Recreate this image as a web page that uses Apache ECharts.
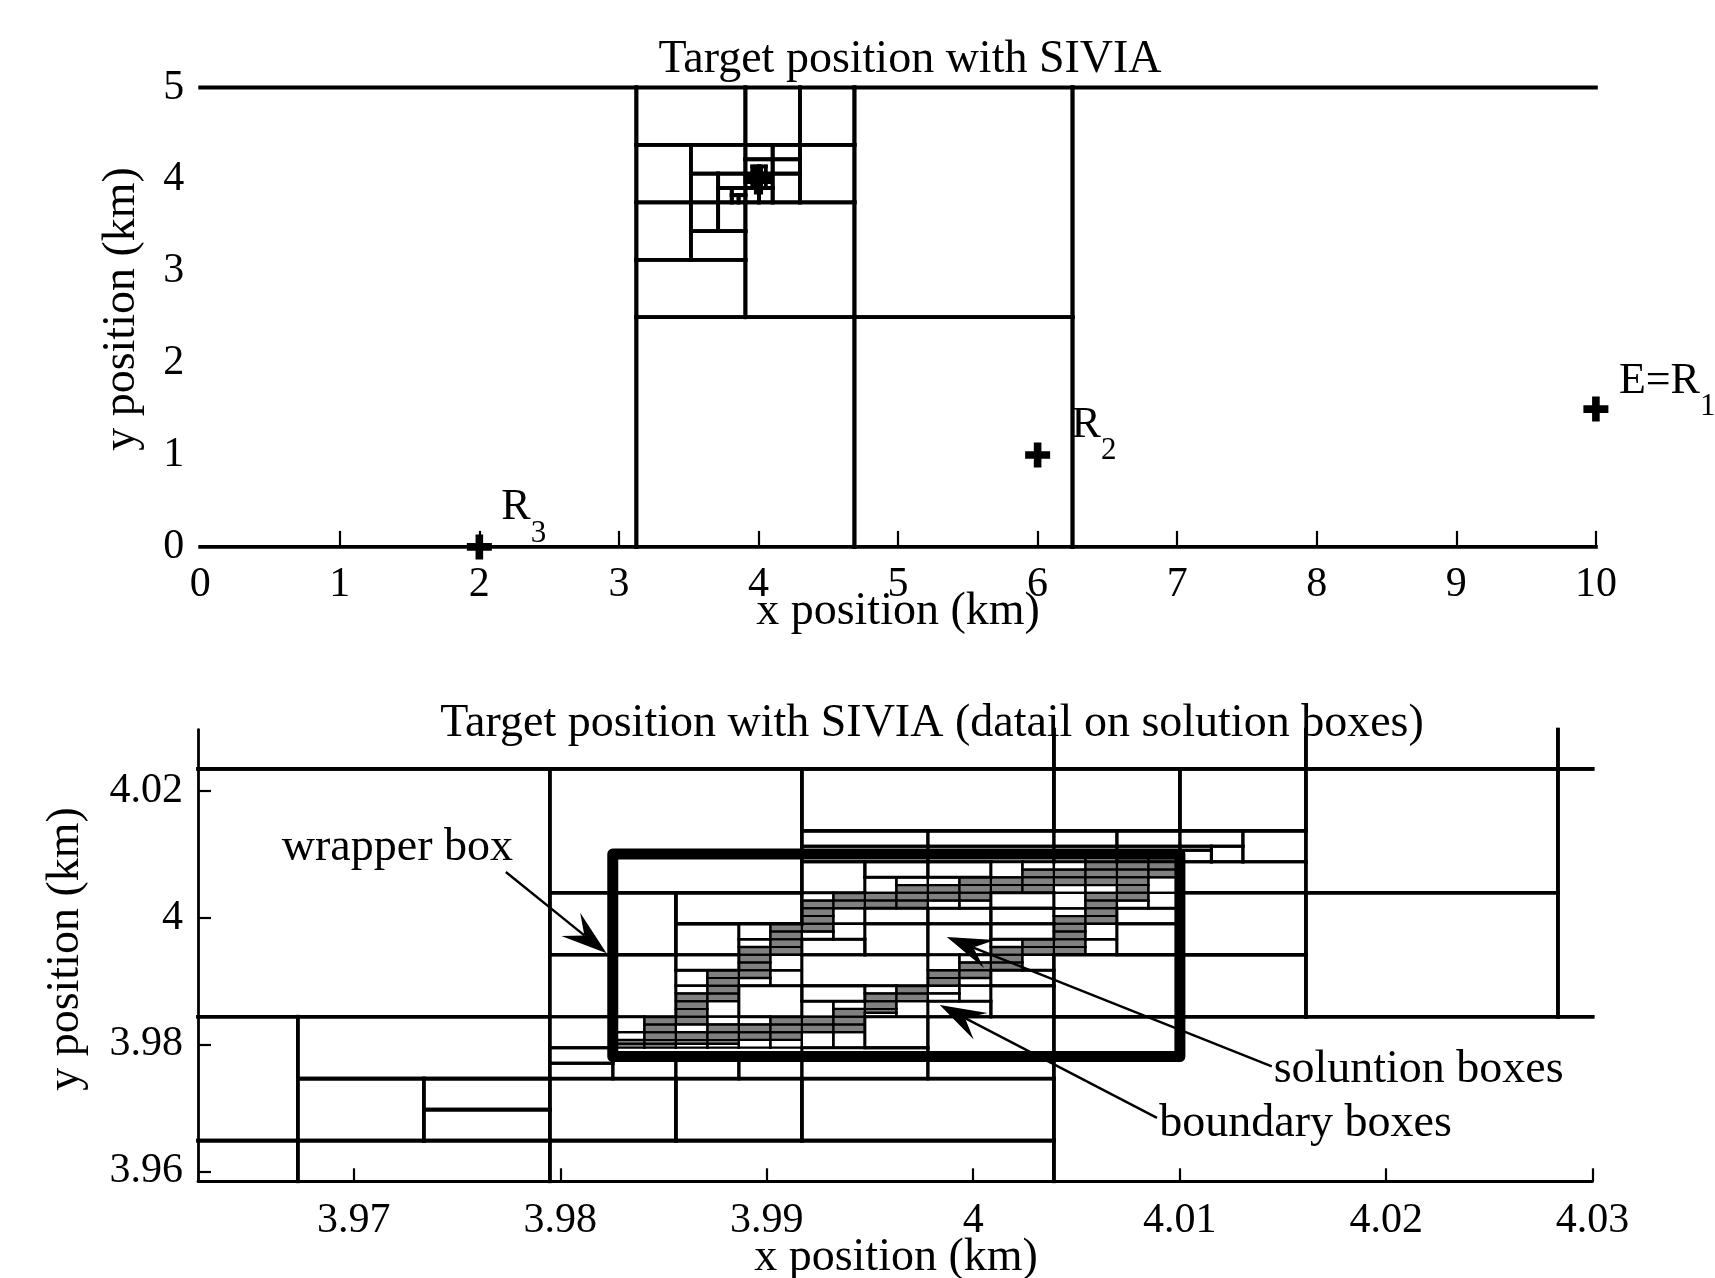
<!DOCTYPE html>
<html>
<head>
<meta charset="utf-8">
<script src="https://cdn.jsdelivr.net/npm/echarts@6/dist/echarts.min.js"></script>
<style>
  html, body { margin: 0; padding: 0; background: #ffffff; }
  #chart { width: 1715px; height: 1278px; }
</style>
</head>
<body>
<div id="chart"></div>
<script>
const FONT = "'Liberation Serif', 'Times New Roman', serif";

// ---------- Upper panel: whole search domain (km) ----------
const topXRange = [0, 10];
const topYRange = [0, 5];
const topXTicks = [1, 2, 3, 4, 5, 6, 7, 8, 9, 10];
const topXLabels = [0, 1, 2, 3, 4, 5, 6, 7, 8, 9, 10];
const topYLabels = [0, 1, 2, 3, 4, 5];

// SIVIA boxes [xmin, xmax, ymin, ymax]
const topBoxes = [
  [-3, 3.125, 0, 5],
  [6.25, 12.5, 0, 5],
  [3.125, 4.6875, 0, 2.5],
  [4.6875, 6.25, 0, 2.5],
  [4.6875, 6.25, 2.5, 5],
  [3.90625, 4.6875, 2.5, 3.75],
  [3.125, 3.90625, 2.5, 3.125],
  [3.125, 3.90625, 4.375, 5],
  [3.90625, 4.296875, 4.375, 5],
  [4.296875, 4.6875, 4.375, 5],
  [4.296875, 4.6875, 3.75, 4.375],
  [3.125, 3.515625, 3.125, 3.75],
  [3.125, 3.515625, 3.75, 4.375],
  [3.515625, 3.90625, 3.125, 3.4375],
  [3.515625, 3.7109375, 3.4375, 3.75],
  [3.7109375, 3.90625, 3.4375, 3.75],
  [3.515625, 3.90625, 4.0625, 4.375],
  [3.515625, 3.7109375, 3.75, 4.0625],
  [3.7109375, 3.90625, 3.90625, 4.0625],
  [3.7109375, 3.80859375, 3.75, 3.90625],
  [3.80859375, 3.90625, 3.828125, 3.90625],
  [3.80859375, 3.857421875, 3.75, 3.828125],
  [3.857421875, 3.90625, 3.75, 3.828125],
  [3.90625, 4.1015625, 4.21875, 4.375],
  [4.1015625, 4.296875, 4.21875, 4.375],
  [3.90625, 4.1015625, 4.0625, 4.21875],
  [4.1015625, 4.296875, 4.0625, 4.21875],
  [4.1015625, 4.296875, 3.75, 4.0625],
  [3.90625, 4.00390625, 3.75, 3.90625],
  [4.00390625, 4.1015625, 3.75, 3.90625],
  [3.90625, 4.00390625, 3.90625, 4.0625],
  [4.00390625, 4.1015625, 3.90625, 4.0625],
  [3.955078125, 4.00390625, 3.984375, 4.0625],
  [4.00390625, 4.052734375, 3.984375, 4.0625],
  [3.955078125, 4.00390625, 3.90625, 3.984375],
  [4.00390625, 4.052734375, 3.90625, 3.984375],
  [3.955078125, 4.00390625, 4.0625, 4.140625],
  [4.00390625, 4.052734375, 4.0625, 4.140625]
];

// receivers / emitter and the target
const stations = [[2, 0], [6, 1], [10, 1.5]];
const stationNames = [['R', '3'], ['R', '2'], ['E=R', '1']];
const targetPoint = [[4, 4]];

// ---------- Lower panel: detail around the target (km) ----------
const lowXRange = [3.96245, 4.03];
const lowYRange = [3.95843, 4.02963];
const lowXTicks = [3.97, 3.98, 3.99, 4, 4.01, 4.02, 4.03];
const lowYTicks = [3.96, 3.98, 4, 4.02];

// Regular sub-grid of the paving: index (c, r) -> x = X0 + c*W, y = Y0 + r*H
const cellX0 = 3.979492, cellW = 0.0015259;
const cellY0 = 3.974609, cellH = 0.0012207;

// boxes in sub-grid indices [c0, c1, r0, r1]
const coarseBoxes = [
  [-16, 0, 8, 40], [-16, -8, -8, 8], [-16, -8, -16, -8], [-8, 0, 0, 8],
  [-8, -4, -8, 0], [-4, 0, -4, 0], [-4, 0, -8, -4], [-8, 0, -16, -8],
  [0, 16, -16, -8], [0, 4, -8, 0], [4, 8, -8, 0], [8, 16, -8, 0],
  [16, 40, -16, 8], [0, 8, 24, 40], [8, 16, 32, 40], [16, 20, 32, 40],
  [20, 24, 32, 40], [-16, 16, 40, 48], [16, 24, 40, 48], [24, 32, 40, 48],
  [32, 40, 40, 48], [24, 32, 24, 40], [24, 32, 8, 24], [32, 40, 8, 40],
  [0, 4, 16, 24], [4, 8, 20, 24], [20, 24, 8, 16], [20, 24, 16, 24],
  [16, 20, 8, 16]
];

const mediumBoxes = [
  [4, 6, 16, 20], [4, 6, 14, 16], [0, 2, 8, 16], [2, 4, 8, 16],
  [0, 2, 4, 8], [0, 2, 2, 4], [0, 2, 0, 2], [2, 4, 0, 3],
  [4, 6, 0, 3], [6, 8, 0, 3], [8, 12, 0, 4], [12, 16, 0, 8],
  [10, 12, 4, 8], [6, 8, 8, 12], [8, 10, 10, 12], [8, 12, 12, 16],
  [12, 14, 8, 10], [14, 16, 8, 12], [14, 16, 12, 14], [8, 10, 16, 18],
  [10, 12, 16, 20], [10, 12, 20, 22], [12, 14, 16, 20], [12, 14, 20, 22],
  [14, 16, 18, 20], [14, 16, 20, 22], [14, 16, 22, 24], [18, 20, 16, 20],
  [18, 20, 20, 22], [8, 10, 24, 28], [10, 12, 26, 28], [12, 14, 26, 28],
  [8, 12, 28, 30], [12, 16, 28, 30], [16, 18, 28, 30], [18, 20, 28, 30],
  [8, 12, 30, 32], [12, 16, 30, 32], [16, 18, 30, 32], [18, 20, 30, 32],
  [20, 24, 24, 28], [22, 24, 28, 32], [20, 22, 30, 32], [21, 22, 28, 30],
  [20, 21, 29.5, 30], [20, 21, 28, 29.5]
];

const boundaryCells = [
  [2, 3, 5, 6], [2, 3, 6, 8],
  [4, 5, 4, 4.5], [4, 5, 6, 7], [4, 5, 11, 12], [4, 5, 12, 14],
  [5, 6, 4, 4.5], [5, 6, 7, 8], [5, 6, 8, 10],
  [6, 7, 4, 5], [6, 7, 7, 8], [6, 7, 12, 13], [6, 7, 17, 18], [6, 7, 18, 20],
  [7, 8, 4, 5], [7, 8, 12, 14], [7, 8, 14, 16],
  [8, 9, 4, 6], [8, 9, 8, 10], [8, 9, 18, 19], [8, 9, 23, 24],
  [9, 10, 4, 6], [9, 10, 9, 10], [9, 10, 18, 20], [9, 10, 20, 22],
  [10, 11, 8, 8.5], [10, 11, 11, 12], [10, 11, 24, 26],
  [11, 12, 8, 10], [11, 12, 25, 26],
  [12, 13, 10, 11], [12, 13, 11, 12], [12, 13, 14, 16], [12, 13, 22, 23], [12, 13, 25, 26],
  [13, 14, 10, 12], [13, 14, 12, 13], [13, 14, 15, 16], [13, 14, 22, 23],
  [14, 15, 17, 18], [14, 15, 26, 28],
  [15, 16, 14, 16], [15, 16, 27, 28],
  [16, 17, 21, 22], [16, 17, 22, 24], [16, 17, 24, 25], [16, 17, 27, 28],
  [17, 18, 16, 18], [17, 18, 18, 20], [17, 18, 24, 25],
  [18, 19, 22, 23],
  [19, 20, 22, 24], [19, 20, 24, 26],
  [8, 12, 28, 28.5], [12, 16, 28, 28.5], [16, 17, 28, 28.5], [17, 18, 28, 28.5]
];

const solutionCells = [
  [2, 3, 4, 4.5], [2, 3, 4.5, 5],
  [3, 4, 4, 4.5], [3, 4, 4.5, 5], [3, 4, 5, 6], [3, 4, 6, 7], [3, 4, 7, 8],
  [4, 5, 4.5, 5], [4, 5, 5, 6], [4, 5, 7, 8], [4, 5, 8, 9], [4, 5, 9, 10], [4, 5, 10, 11],
  [5, 6, 4.5, 5], [5, 6, 5, 6], [5, 6, 6, 7], [5, 6, 10, 11], [5, 6, 11, 12], [5, 6, 12, 13], [5, 6, 13, 14],
  [6, 7, 5, 6], [6, 7, 6, 7], [6, 7, 13, 14], [6, 7, 14, 15], [6, 7, 15, 16], [6, 7, 16, 17],
  [7, 8, 5, 6], [7, 8, 6, 7], [7, 8, 7, 8], [7, 8, 16, 17], [7, 8, 17, 18], [7, 8, 18, 19], [7, 8, 19, 20],
  [8, 9, 6, 7], [8, 9, 7, 8], [8, 9, 19, 20], [8, 9, 20, 21], [8, 9, 21, 22], [8, 9, 22, 23],
  [9, 10, 6, 7], [9, 10, 7, 8], [9, 10, 8, 9], [9, 10, 22, 23], [9, 10, 23, 24],
  [10, 11, 8.5, 9], [10, 11, 9, 10], [10, 11, 10, 11], [10, 11, 22, 23], [10, 11, 23, 24],
  [11, 12, 10, 11], [11, 12, 11, 12], [11, 12, 22, 23], [11, 12, 23, 24], [11, 12, 24, 25],
  [12, 13, 12, 13], [12, 13, 13, 14], [12, 13, 23, 24], [12, 13, 24, 25],
  [13, 14, 13, 14], [13, 14, 14, 15], [13, 14, 23, 24], [13, 14, 24, 25], [13, 14, 25, 26],
  [14, 15, 14, 15], [14, 15, 15, 16], [14, 15, 16, 17], [14, 15, 24, 25], [14, 15, 25, 26],
  [15, 16, 16, 17], [15, 16, 17, 18], [15, 16, 24, 25], [15, 16, 25, 26], [15, 16, 26, 27],
  [16, 17, 16, 17], [16, 17, 17, 18], [16, 17, 18, 19], [16, 17, 19, 20], [16, 17, 20, 21],
  [16, 17, 25, 26], [16, 17, 26, 27],
  [17, 18, 20, 21], [17, 18, 21, 22], [17, 18, 22, 23], [17, 18, 23, 24],
  [17, 18, 25, 26], [17, 18, 26, 27], [17, 18, 27, 28],
  [18, 19, 23, 24], [18, 19, 24, 25], [18, 19, 25, 26], [18, 19, 26, 27], [18, 19, 27, 28], [18, 19, 28, 28.5],
  [19, 20, 26, 27], [19, 20, 27, 28], [19, 20, 28, 28.5]
];

// hull of the solution set [xmin, xmax, ymin, ymax] (km)
const wrapperBox = [3.98254, 4.01001, 3.97810, 4.01001];

// annotations: text anchor (left, middle) and arrow [xStart, yStart, xTip, yTip]
const annotationLabels = ['wrapper box', 'soluntion boxes', 'boundary boxes'];
const annotationAnchors = [[3.96651, 4.01097], [4.01455, 3.97597], [4.00901, 3.96740]];
const annotationArrows = [
  [3.97736, 4.00718, 3.98224, 3.99437],
  [4.01446, 3.97653, 3.99872, 3.99694],
  [4.00890, 3.96842, 3.99838, 3.98622]
];

// ---------- drawing helpers ----------
const stationLabelOffsets = [[22, -61], [34, -52], [23, -50]];

function toKm(b) {
  return [cellX0 + b[0] * cellW, cellX0 + b[1] * cellW, cellY0 + b[2] * cellH, cellY0 + b[3] * cellH];
}

// outline of a box, clipped to the axis window (edges outside the window are skipped)
function outlineRenderer(xr, yr, widths) {
  const eps = 1e-9;
  return function (params, api) {
    const x1 = api.value(0), x2 = api.value(1), y1 = api.value(2), y2 = api.value(3);
    const lw = widths[api.value(4)];
    const cx = v => Math.max(xr[0], Math.min(xr[1], v));
    const cy = v => Math.max(yr[0], Math.min(yr[1], v));
    const inX = v => v >= xr[0] - eps && v <= xr[1] + eps;
    const inY = v => v >= yr[0] - eps && v <= yr[1] + eps;
    const children = [];
    function seg(a, b) {
      const p = api.coord(a), q = api.coord(b);
      children.push({
        type: 'line',
        shape: { x1: p[0], y1: p[1], x2: q[0], y2: q[1] },
        style: { stroke: '#000', lineWidth: lw, lineCap: 'square', fill: null }
      });
    }
    if (x2 > xr[0] && x1 < xr[1]) {
      if (inY(y1)) seg([cx(x1), y1], [cx(x2), y1]);
      if (inY(y2)) seg([cx(x1), y2], [cx(x2), y2]);
    }
    if (y2 > yr[0] && y1 < yr[1]) {
      if (inX(x1)) seg([x1, cy(y1)], [x1, cy(y2)]);
      if (inX(x2)) seg([x2, cy(y1)], [x2, cy(y2)]);
    }
    return { type: 'group', children: children };
  };
}

function fillRenderer(params, api) {
  const p = api.coord([api.value(0), api.value(3)]);
  const q = api.coord([api.value(1), api.value(2)]);
  return {
    type: 'rect',
    shape: { x: p[0], y: p[1], width: q[0] - p[0], height: q[1] - p[1] },
    style: { fill: '#808080' }
  };
}

function wrapperRenderer(params, api) {
  const p = api.coord([api.value(0), api.value(3)]);
  const q = api.coord([api.value(1), api.value(2)]);
  return {
    type: 'rect',
    shape: { x: p[0], y: p[1], width: q[0] - p[0], height: q[1] - p[1] },
    style: { fill: null, stroke: '#000', lineWidth: 11, lineJoin: 'round' }
  };
}

function annotationRenderer(params, api) {
  const i = params.dataIndex;
  const s = api.coord([api.value(0), api.value(1)]);
  const t = api.coord([api.value(2), api.value(3)]);
  const a = api.coord(annotationAnchors[i]);
  const dx = t[0] - s[0], dy = t[1] - s[1];
  const len = Math.sqrt(dx * dx + dy * dy);
  const ux = dx / len, uy = dy / len, nx = -uy, ny = ux;
  const L = 46, W = 30, notch = 0.62;
  const head = [
    [t[0], t[1]],
    [t[0] - L * ux + W / 2 * nx, t[1] - L * uy + W / 2 * ny],
    [t[0] - notch * L * ux, t[1] - notch * L * uy],
    [t[0] - L * ux - W / 2 * nx, t[1] - L * uy - W / 2 * ny]
  ];
  return {
    type: 'group',
    children: [
      {
        type: 'line',
        shape: { x1: s[0], y1: s[1], x2: t[0] - notch * L * ux, y2: t[1] - notch * L * uy },
        style: { stroke: '#000', lineWidth: 2.4 }
      },
      { type: 'polygon', shape: { points: head }, style: { fill: '#000' } },
      {
        type: 'text', x: a[0], y: a[1],
        style: {
          text: annotationLabels[i], fill: '#000', fontSize: 46, fontFamily: FONT,
          align: 'left', verticalAlign: 'middle'
        }
      }
    ]
  };
}

function stationLabelRenderer(params, api) {
  const i = params.dataIndex;
  const p = api.coord([api.value(0), api.value(1)]);
  const off = stationLabelOffsets[i];
  const nm = stationNames[i];
  return {
    type: 'text', x: p[0] + off[0], y: p[1] + off[1],
    style: {
      text: '{a|' + nm[0] + '}{b|' + nm[1] + '}',
      align: 'left', verticalAlign: 'top',
      rich: {
        a: { fontSize: 44, fontFamily: FONT, fill: '#000', lineHeight: 63, verticalAlign: 'top' },
        b: { fontSize: 31, fontFamily: FONT, fill: '#000', lineHeight: 63, verticalAlign: 'bottom' }
      }
    }
  };
}

const plusSymbol = 'path://M8,0H15V8H23V15H15V23H8V15H0V8H8Z';

const lowOutlineData = []
  .concat(coarseBoxes.map(b => toKm(b).concat([0])))
  .concat(mediumBoxes.map(b => toKm(b).concat([1])))
  .concat(boundaryCells.map(b => toKm(b).concat([2])))
  .concat(solutionCells.map(b => toKm(b).concat([3])));
const lowFillData = solutionCells.map(b => toKm(b));

const fmt2 = v => String(parseFloat(Number(v).toFixed(2)));
const axisText = { color: '#000', fontSize: 42, fontFamily: FONT };

const option = {
  backgroundColor: '#ffffff',
  animation: false,
  grid: [
    { left: 200.2, top: 87.5, width: 1395.7, height: 459.4 },
    { left: 198, top: 729.6, width: 1394.6, height: 451.7 }
  ],
  xAxis: [
    {
      gridIndex: 0, type: 'value', min: topXRange[0], max: topXRange[1],
      axisLine: { show: false },
      axisTick: { show: true, inside: true, length: 16, customValues: topXTicks, lineStyle: { color: '#000', width: 2.2 } },
      axisLabel: Object.assign({ customValues: topXLabels, margin: 17 }, axisText),
      splitLine: { show: false }
    },
    {
      gridIndex: 1, type: 'value', min: lowXRange[0], max: lowXRange[1],
      axisLine: { show: true, onZero: false, lineStyle: { color: '#000', width: 2.8 } },
      axisTick: { show: true, inside: true, length: 13, customValues: lowXTicks, lineStyle: { color: '#000', width: 2.2 } },
      axisLabel: Object.assign({ customValues: lowXTicks, margin: 19, formatter: fmt2 }, axisText),
      splitLine: { show: false }
    }
  ],
  yAxis: [
    {
      gridIndex: 0, type: 'value', min: topYRange[0], max: topYRange[1],
      axisLine: { show: false },
      axisTick: { show: false },
      axisLabel: Object.assign({ customValues: topYLabels, margin: 16 }, axisText),
      splitLine: { show: false }
    },
    {
      gridIndex: 1, type: 'value', min: lowYRange[0], max: lowYRange[1],
      axisLine: { show: true, onZero: false, lineStyle: { color: '#000', width: 2.8 } },
      axisTick: { show: true, inside: true, length: 13, customValues: lowYTicks, lineStyle: { color: '#000', width: 2.2 } },
      axisLabel: Object.assign({ customValues: lowYTicks, margin: 15, formatter: fmt2 }, axisText),
      splitLine: { show: false }
    }
  ],
  graphic: [
    { type: 'text', x: 910, y: 60, style: { text: 'Target position with SIVIA', fontSize: 46, fontFamily: FONT, fill: '#000', align: 'center', verticalAlign: 'middle' } },
    { type: 'text', x: 898, y: 612, style: { text: 'x position (km)', fontSize: 46, fontFamily: FONT, fill: '#000', align: 'center', verticalAlign: 'middle' } },
    { type: 'text', x: 122, y: 309, rotation: Math.PI / 2, style: { text: 'y position (km)', fontSize: 46, fontFamily: FONT, fill: '#000', align: 'center', verticalAlign: 'middle' } },
    { type: 'text', x: 932, y: 724, style: { text: 'Target position with SIVIA (datail on solution boxes)', fontSize: 46, fontFamily: FONT, fill: '#000', align: 'center', verticalAlign: 'middle' } },
    { type: 'text', x: 896, y: 1258, style: { text: 'x position (km)', fontSize: 46, fontFamily: FONT, fill: '#000', align: 'center', verticalAlign: 'middle' } },
    { type: 'text', x: 66, y: 949, rotation: Math.PI / 2, style: { text: 'y position (km)', fontSize: 46, fontFamily: FONT, fill: '#000', align: 'center', verticalAlign: 'middle' } }
  ],
  series: [
    {
      type: 'custom', name: 'paving', xAxisIndex: 0, yAxisIndex: 0, silent: true, z: 2,
      renderItem: outlineRenderer(topXRange, topYRange, [3.8]),
      data: topBoxes.map(b => b.concat([0]))
    },
    {
      type: 'scatter', name: 'stations', xAxisIndex: 0, yAxisIndex: 0, silent: true, z: 4, clip: false,
      symbol: plusSymbol, symbolSize: 25, itemStyle: { color: '#000', opacity: 1 },
      data: stations
    },
    {
      type: 'scatter', name: 'target', xAxisIndex: 0, yAxisIndex: 0, silent: true, z: 4, clip: false,
      symbol: plusSymbol, symbolSize: 30, itemStyle: { color: '#000', opacity: 1 },
      data: targetPoint
    },
    {
      type: 'custom', name: 'station labels', xAxisIndex: 0, yAxisIndex: 0, silent: true, z: 5,
      renderItem: stationLabelRenderer,
      data: stations
    },
    {
      type: 'custom', name: 'solution fill', xAxisIndex: 1, yAxisIndex: 1, silent: true, z: 2,
      renderItem: fillRenderer,
      data: lowFillData
    },
    {
      type: 'custom', name: 'detail paving', xAxisIndex: 1, yAxisIndex: 1, silent: true, z: 3,
      renderItem: outlineRenderer(lowXRange, lowYRange, [3.6, 3, 2.3, 2]),
      data: lowOutlineData
    },
    {
      type: 'custom', name: 'wrapper', xAxisIndex: 1, yAxisIndex: 1, silent: true, z: 4,
      renderItem: wrapperRenderer,
      data: [wrapperBox]
    },
    {
      type: 'custom', name: 'annotations', xAxisIndex: 1, yAxisIndex: 1, silent: true, z: 5,
      renderItem: annotationRenderer,
      data: annotationArrows
    }
  ]
};

const chart = echarts.init(document.getElementById('chart'));
chart.setOption(option);
</script>
</body>
</html>
